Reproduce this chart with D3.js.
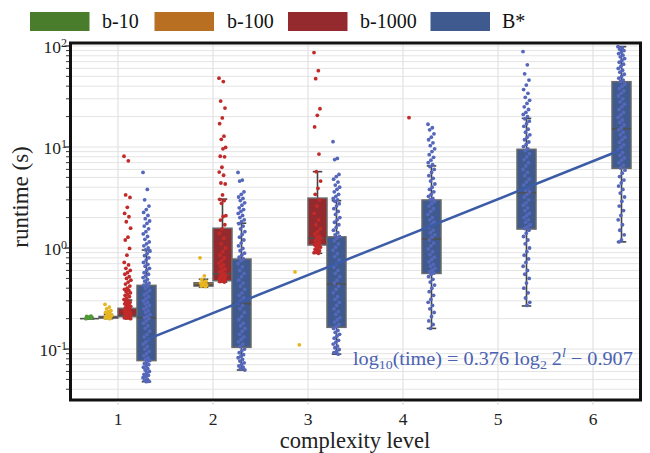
<!DOCTYPE html>
<html>
<head>
<meta charset="utf-8">
<style>
    body { margin: 0; background: #fff; }
    svg { display: block; }
    text { font-family: 'Liberation Serif', 'Times New Roman', Times, serif; }
</style>
</head>
<body>
<svg width="650" height="453" font-family="Liberation Serif, serif"></svg>
<script src="https://cdnjs.cloudflare.com/ajax/libs/d3/7.8.5/d3.min.js"></script>
<script>
    const levels = [1, 2, 3, 4, 5, 6];
    const hues = ['b-10', 'b-100', 'b-1000', 'B*'];
    const yTicks = [0.1, 1, 10, 100];
    const yTickLabels = ['-1', '0', '1', '2'];

    // box stats per level: [whisker lo, q1, median, q3, whisker hi], null = no box
    const b10Box = [[0.2, 0.2, 0.2, 0.2, 0.2], null, null, null, null, null];
    const b100Box = [[0.2, 0.203, 0.205, 0.21, 0.22], [0.41, 0.42, 0.43, 0.453, 0.49], null, null, null, null];
    const b1000Box = [[0.2, 0.209, 0.215, 0.253, 0.305], [0.46, 0.474, 0.557, 1.57, 3.05],
        [0.886, 1.07, 1.25, 3.12, 5.7], null, null, null];
    const bstarBox = [[0.0475, 0.0768, 0.204, 0.427, 0.955], [0.062, 0.104, 0.281, 0.778, 1.76],
        [0.089, 0.164, 0.44, 1.29, 2.94], [0.16, 0.56, 1.23, 2.99, 6.5],
        [0.267, 1.54, 3.53, 9.49, 19.2], [1.15, 6.15, 15.2, 44.3, 98.5]];

    // runtimes per level (seconds)
    const b10Pts = [
        [0.2, 0.202, 0.204, 0.206, 0.208, 0.21, 0.212], [], [], [], [], []
    ];
    const b100Pts = [
        [0.277, 0.26, 0.25, 0.24, 0.235, 0.23, 0.225, 0.22, 0.215, 0.212, 0.21, 0.208, 0.205, 0.203, 0.2],
        [0.8, 0.53, 0.49, 0.47, 0.46, 0.45, 0.44, 0.435, 0.43, 0.425, 0.42, 0.415],
        [0.58, 0.11], [], [], []
    ];
    const b1000Pts = [
        [8.1, 7.3, 3.35, 3.17, 2.53, 2.2, 2.04, 1.82, 1.57, 1.28, 1.2, 0.99, 0.85, 0.72, 0.68, 0.63, 0.6,
            0.57, 0.55, 0.52, 0.5, 0.48, 0.46, 0.44, 0.42, 0.4, 0.39, 0.38, 0.37, 0.36, 0.35, 0.34, 0.33,
            0.32, 0.31, 0.3, 0.295, 0.29, 0.285, 0.28, 0.275, 0.27, 0.265, 0.26, 0.255, 0.25, 0.245, 0.24,
            0.235, 0.23, 0.228, 0.225, 0.222, 0.22, 0.218, 0.216, 0.214, 0.212, 0.21, 0.208, 0.206, 0.204,
            0.202, 0.2],
        [48, 44.4, 28.5, 24.3, 19.4, 17, 12.8, 11.9, 9.9, 9.6, 8.1, 8.0, 6.3, 5.65, 5.25, 4.4, 4.3, 3.35,
            3.03, 2.95, 2.77, 2.09, 2.05, 1.89, 1.7, 1.55, 1.4, 1.25, 1.1, 1.0, 0.92, 0.85, 0.8, 0.75, 0.71,
            0.68, 0.65, 0.62, 0.6, 0.58, 0.56, 0.55, 0.54, 0.53, 0.52, 0.51, 0.5, 0.49, 0.485, 0.48, 0.475,
            0.47, 0.465, 0.46],
        [86, 57, 47.5, 23.9, 20.6, 15.8, 8.5, 5.7, 4.6, 3.9, 3.4, 3.0, 2.6, 2.2, 1.9, 1.7, 1.55, 1.45,
            1.38, 1.32, 1.28, 1.25, 1.22, 1.18, 1.14, 1.1, 1.08, 1.06, 1.04, 1.02, 1.0, 0.97, 0.94, 0.92,
            0.9, 0.886],
        [19.5], [], []
    ];
    const bstarPts = [
        [5.6, 3.8, 3.0, 2.6, 2.4, 2.25, 2.1, 1.95, 1.85, 1.75, 1.65, 1.55, 1.45, 1.38, 1.3, 1.22, 1.15,
            1.1, 1.05, 1.0, 0.96, 0.93, 0.88, 0.84, 0.8, 0.76, 0.72, 0.69, 0.66, 0.63, 0.6, 0.57, 0.55,
            0.53, 0.51, 0.49, 0.47, 0.45, 0.44, 0.43, 0.42, 0.4, 0.38, 0.36, 0.345, 0.33, 0.315, 0.3, 0.29,
            0.28, 0.27, 0.26, 0.25, 0.24, 0.23, 0.22, 0.21, 0.205, 0.2, 0.19, 0.18, 0.17, 0.16, 0.15, 0.14,
            0.132, 0.125, 0.118, 0.112, 0.106, 0.1, 0.095, 0.09, 0.086, 0.082, 0.079, 0.077, 0.075, 0.072,
            0.07, 0.068, 0.066, 0.064, 0.062, 0.06, 0.058, 0.056, 0.055, 0.053, 0.052, 0.05, 0.049, 0.048,
            0.0475],
        [5.6, 4.7, 4.6, 3.6, 3.4, 3.2, 3.1, 2.95, 2.8, 2.65, 2.5, 2.4, 2.3, 2.2, 2.1, 2.0, 1.9, 1.82,
            1.74, 1.65, 1.55, 1.45, 1.36, 1.28, 1.2, 1.12, 1.05, 0.99, 0.94, 0.89, 0.85, 0.81, 0.78, 0.75,
            0.7, 0.65, 0.6, 0.56, 0.52, 0.48, 0.45, 0.42, 0.39, 0.36, 0.34, 0.32, 0.3, 0.285, 0.27, 0.25,
            0.23, 0.21, 0.195, 0.18, 0.17, 0.16, 0.15, 0.14, 0.132, 0.125, 0.118, 0.112, 0.106, 0.1, 0.096,
            0.092, 0.088, 0.085, 0.082, 0.079, 0.076, 0.073, 0.07, 0.068, 0.066, 0.064, 0.062],
        [11.3, 7.7, 7.5, 5.35, 5.1, 4.8, 4.5, 4.2, 4.0, 3.8, 3.6, 3.4, 3.25, 3.1, 3.0, 2.9, 2.75, 2.6,
            2.45, 2.3, 2.15, 2.0, 1.9, 1.8, 1.7, 1.6, 1.5, 1.42, 1.35, 1.3, 1.25, 1.18, 1.1, 1.02, 0.95,
            0.88, 0.82, 0.76, 0.7, 0.65, 0.6, 0.56, 0.52, 0.48, 0.45, 0.42, 0.39, 0.36, 0.33, 0.31, 0.29,
            0.27, 0.25, 0.235, 0.22, 0.205, 0.195, 0.185, 0.175, 0.167, 0.16, 0.153, 0.146, 0.14, 0.134,
            0.128, 0.122, 0.117, 0.112, 0.107, 0.103, 0.099, 0.095, 0.092, 0.089],
        [16.8, 15.5, 14.8, 13.5, 12.5, 11.8, 11, 10.3, 9.6, 9.0, 8.4, 7.9, 7.4, 7.0, 6.7, 6.4, 6.0, 5.6,
            5.2, 4.9, 4.6, 4.3, 4.0, 3.8, 3.6, 3.4, 3.25, 3.1, 3.0, 2.9, 2.75, 2.6, 2.45, 2.3, 2.15, 2.0,
            1.9, 1.8, 1.7, 1.6, 1.5, 1.42, 1.35, 1.28, 1.2, 1.12, 1.05, 0.98, 0.92, 0.86, 0.81, 0.77, 0.73,
            0.69, 0.66, 0.63, 0.6, 0.58, 0.565, 0.55, 0.52, 0.49, 0.46, 0.43, 0.4, 0.37, 0.34, 0.31, 0.29,
            0.27, 0.25, 0.23, 0.21, 0.19, 0.175, 0.16],
        [88, 65, 53, 46, 41, 37, 34, 31, 29, 27, 25, 23.5, 22, 21, 20, 19, 18, 17, 16, 15, 14, 13.2,
            12.5, 11.8, 11.2, 10.6, 10.1, 9.6, 9.2, 8.6, 8.0, 7.5, 7.0, 6.5, 6.0, 5.6, 5.2, 4.8, 4.5, 4.2,
            3.95, 3.75, 3.6, 3.4, 3.2, 3.0, 2.8, 2.65, 2.5, 2.35, 2.2, 2.1, 2.0, 1.9, 1.8, 1.7, 1.62, 1.56,
            1.5, 1.4, 1.3, 1.2, 1.1, 1.0, 0.92, 0.85, 0.78, 0.72, 0.66, 0.6, 0.55, 0.5, 0.45, 0.4, 0.36,
            0.32, 0.29, 0.27],
        [98.5, 96, 93, 90, 87, 84, 81, 78, 75, 72, 69, 66, 63, 60, 57.5, 55, 52.5, 50, 48, 46, 44.5, 42,
            40, 38, 36, 34, 32, 30, 28, 26.5, 25, 23.5, 22, 20.8, 19.6, 18.5, 17.5, 16.5, 15.5, 14.8, 14,
            13.2, 12.5, 11.8, 11.1, 10.5, 9.9, 9.3, 8.8, 8.3, 7.8, 7.4, 7.0, 6.6, 6.2, 5.9, 5.5, 5.1, 4.7,
            4.4, 4.1, 3.8, 3.5, 3.2, 2.9, 2.6, 2.35, 2.1, 1.9, 1.7, 1.5, 1.35, 1.2, 1.15]
    ];

    // fit: log10(time) = slope * log2(2^l) + intercept, l counted from the first level
    const fitSlope = 0.376;
    const fitIntercept = -0.907;

    const boxColors = ['#4a7d2b', '#b86f22', '#952a2e', '#3e5a8e'];
    const ptColors = ['#4f9a35', '#e6b520', '#c22a2a', '#5567bb'];
    const allBoxes = [b10Box, b100Box, b1000Box, bstarBox];
    const allPts = [b10Pts, b100Pts, b1000Pts, bstarPts];

    const svg = d3.select('svg');
    const pLeft = 70.5, pRight = 640.5, pTop = 43, pBottom = 400;

    const x = d3.scaleLinear().domain([0.5, 6.5]).range([pLeft, pRight]);
    const y = d3.scaleLog().domain([0.0313, 107]).range([pBottom, pTop]);
    const dodge = d3.scaleBand().domain(hues).range([-0.4, 0.4]);
    const bw = x(dodge.bandwidth()) - x(0);

    function cx (level, hue) {
        return x(level + dodge(hue) + dodge.bandwidth() / 2);
    }

    // grid
    const minor = [];
    for (let e = -2; e <= 2; e++) {
        for (let m = 1; m < 10; m++) {
            const v = +(m * Math.pow(10, e)).toPrecision(3);
            if (v >= y.domain()[0] && v <= y.domain()[1]) minor.push(v);
        }
    }
    svg.append('g').selectAll('line').data(minor).join('line')
        .attr('x1', pLeft).attr('x2', pRight)
        .attr('y1', d => y(d)).attr('y2', d => y(d))
        .attr('stroke', '#e4e4e4').attr('stroke-width', 1);
    svg.append('g').selectAll('line').data(levels).join('line')
        .attr('x1', d => x(d)).attr('x2', d => x(d))
        .attr('y1', pTop).attr('y2', pBottom)
        .attr('stroke', '#e2e2e2').attr('stroke-width', 1.2);

    // boxes
    const boxG = svg.append('g');
    hues.forEach((hue, h) => {
        allBoxes[h].forEach((b, i) => {
            if (!b) return;
            const [lo, q1, med, q3, hi] = b;
            const c = cx(levels[i], hue);
            const g = boxG.append('g');
            g.append('line').attr('x1', c).attr('x2', c).attr('y1', y(q3)).attr('y2', y(hi))
                .attr('stroke', '#444').attr('stroke-width', 1.6);
            g.append('line').attr('x1', c).attr('x2', c).attr('y1', y(q1)).attr('y2', y(lo))
                .attr('stroke', '#444').attr('stroke-width', 1.6);
            [lo, hi].forEach(v => {
                g.append('line').attr('x1', c - bw / 4).attr('x2', c + bw / 4)
                    .attr('y1', y(v)).attr('y2', y(v))
                    .attr('stroke', '#444').attr('stroke-width', 1.6);
            });
            g.append('rect').attr('x', c - bw / 2).attr('width', bw)
                .attr('y', y(q3)).attr('height', Math.max(0, y(q1) - y(q3)))
                .attr('fill', boxColors[h]).attr('stroke', '#6a6a6a').attr('stroke-width', 1.5);
            g.append('line').attr('x1', c - bw / 2).attr('x2', c + bw / 2)
                .attr('y1', y(med)).attr('y2', y(med))
                .attr('stroke', '#505050').attr('stroke-width', 1.6);
        });
    });

    // strip points
    const ptG = svg.append('g');
    hues.forEach((hue, h) => {
        allPts[h].forEach((vals, i) => {
            const c = cx(levels[i], hue);
            ptG.append('g').selectAll('circle').data(vals).join('circle')
                .attr('cx', (d, k) => c + (((k * 0.618034) % 1) - 0.5) * 7)
                .attr('cy', d => y(d))
                .attr('r', 1.9)
                .attr('fill', ptColors[h]);
        });
    });

    // regression line through B* positions
    const line = d3.line()
        .x(d => cx(d, 'B*'))
        .y(d => y(Math.pow(10, fitSlope * (d - 1) + fitIntercept)));
    svg.append('path').datum([levels[0], levels[levels.length - 1]])
        .attr('d', line).attr('fill', 'none')
        .attr('stroke', '#3c5ca8').attr('stroke-width', 2.5);

    // equation
    const eq = svg.append('text').attr('x', 353).attr('y', 365)
        .attr('fill', '#4a62b0').attr('font-size', 19);
    eq.append('tspan').text('log');
    eq.append('tspan').attr('font-size', 13).attr('dy', 4).text('10');
    eq.append('tspan').attr('dy', -4).text('(time) = 0.376 log');
    eq.append('tspan').attr('font-size', 13).attr('dy', 4).text('2');
    eq.append('tspan').attr('dy', -4).text(' 2');
    eq.append('tspan').attr('font-size', 13).attr('dy', -8).attr('font-style', 'italic').text('l');
    eq.append('tspan').attr('dy', 8).text(' \u2212 0.907');
    const eqW = eq.node().getBBox().width;
    if (eqW > 0) {
        eq.attr('transform', `translate(353,365) scale(${280 / eqW},1) translate(-353,-365)`);
    }

    // frame
    svg.append('rect').attr('x', pLeft).attr('y', pTop)
        .attr('width', pRight - pLeft).attr('height', pBottom - pTop)
        .attr('fill', 'none').attr('stroke', '#111').attr('stroke-width', 3);

    // y ticks
    svg.append('g').selectAll('line').data(minor).join('line')
        .attr('x1', pLeft - 1.5).attr('x2', d => yTicks.includes(d) ? pLeft - 6 : pLeft - 4.5)
        .attr('y1', d => y(d)).attr('y2', d => y(d))
        .attr('stroke', '#222').attr('stroke-width', d => yTicks.includes(d) ? 1.2 : 0.9);
    const yl = svg.append('g').selectAll('text').data(yTicks).join('text')
        .attr('x', 67).attr('y', d => y(d) + 7)
        .attr('text-anchor', 'end').attr('font-size', 17.5).attr('fill', '#222');
    yl.append('tspan').text('10');
    yl.append('tspan').attr('dy', -6).attr('font-size', 12).text((d, i) => yTickLabels[i]);

    // x ticks
    svg.append('g').selectAll('line').data(levels).join('line')
        .attr('x1', d => x(d)).attr('x2', d => x(d))
        .attr('y1', pBottom + 1.5).attr('y2', pBottom + 5)
        .attr('stroke', '#ddd').attr('stroke-width', 1.2);
    svg.append('g').selectAll('text').data(levels).join('text')
        .attr('x', d => x(d)).attr('y', 424.5)
        .attr('text-anchor', 'middle').attr('font-size', 17.5).attr('fill', '#222')
        .text(d => d);

    // axis titles
    svg.append('text').attr('x', 355).attr('y', 448)
        .attr('text-anchor', 'middle').attr('font-size', 22.5).attr('fill', '#222')
        .text('complexity level');
    svg.append('text').attr('transform', 'translate(28,197) rotate(-90)')
        .attr('text-anchor', 'middle').attr('font-size', 23).attr('fill', '#222')
        .text('runtime (s)');

    // legend
    const legX = [30, 154.5, 288, 430.5];
    const legTx = [102, 227, 360, 502];
    hues.forEach((hue, h) => {
        svg.append('rect').attr('x', legX[h]).attr('y', 12).attr('width', 59.5).attr('height', 19)
            .attr('fill', boxColors[h]);
        svg.append('text').attr('x', legTx[h]).attr('y', 28).attr('font-size', 20).attr('fill', '#111')
            .text(hue);
    });
</script>
</body>
</html>
